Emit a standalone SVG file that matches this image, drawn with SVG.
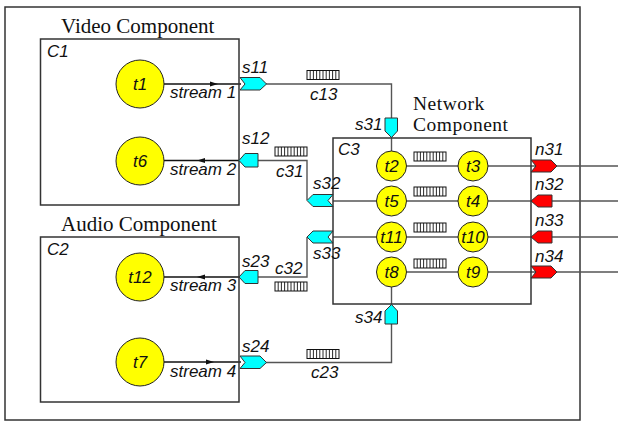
<svg xmlns="http://www.w3.org/2000/svg" xmlns:xlink="http://www.w3.org/1999/xlink" width="618" height="425" viewBox="0 0 618 425">
<style>
.box{fill:none;stroke:#333;stroke-width:1.5}
.ln{fill:none;stroke:#555;stroke-width:1.4}
.st{fill:none;stroke:#111;stroke-width:1.5}
.big{fill:#ff0;stroke:#222;stroke-width:1}
.sm{fill:#ff0;stroke:#222;stroke-width:1}
.cy{fill:#0ff;stroke:#333;stroke-width:1}
.rd{fill:#f00;stroke:#333;stroke-width:1}
.ser{font-family:"Liberation Serif","Times New Roman",serif;font-size:21px;fill:#111}
.net{font-size:19.5px;letter-spacing:0.5px}
.lab{font-family:"Liberation Sans",Arial,sans-serif;font-style:italic;font-size:17px;fill:#111}
.ctr{text-anchor:middle}
.ah{fill:#111}
</style>
<defs>
<g id="chan">
<rect x="0" y="0" width="32" height="9" fill="#fff" stroke="#111" stroke-width="1"/>
<path d="M3.2 0V9M6.4 0V9M9.6 0V9M12.8 0V9M16 0V9M19.2 0V9M22.4 0V9M25.6 0V9M28.8 0V9" stroke="#111" stroke-width="0.9"/>
</g>
</defs>

<rect id="outer" class="box" x="5" y="7" width="575" height="413"/>

<g id="connectors">
<line class="st" x1="164" y1="84" x2="241" y2="84"/>
<polygon class="ah" points="218,84 210,81.5 210,86.5"/>
<line class="st" x1="164" y1="160.5" x2="240" y2="160.5"/>
<polygon class="ah" points="197,160.5 205,158 205,163"/>
<line class="st" x1="164" y1="277" x2="240" y2="277"/>
<polygon class="ah" points="197,277 205,274.5 205,279.5"/>
<line class="st" x1="164" y1="362" x2="241" y2="362"/>
<polygon class="ah" points="214,362 206,359.5 206,364.5"/>
<polyline class="ln" points="266,84 391.5,84 391.5,118"/>
<polyline class="ln" points="258,160.5 307,160.5 307,200"/>
<polyline class="ln" points="258,277 307,277 307,237"/>
<polyline class="ln" points="266,362.5 391.5,362.5 391.5,324"/>
<line class="ln" x1="391.5" y1="137" x2="391.5" y2="151"/>
<line class="ln" x1="391.5" y1="287" x2="391.5" y2="305"/>
<line class="ln" x1="406.5" y1="166" x2="458" y2="166"/>
<line class="ln" x1="488" y1="166" x2="618" y2="166"/>
<line class="ln" x1="333" y1="201" x2="376.5" y2="201"/>
<line class="ln" x1="406.5" y1="201" x2="458" y2="201"/>
<line class="ln" x1="488" y1="201" x2="618" y2="201"/>
<line class="ln" x1="333" y1="237" x2="376.5" y2="237"/>
<line class="ln" x1="406.5" y1="237" x2="458" y2="237"/>
<line class="ln" x1="488" y1="237" x2="618" y2="237"/>
<line class="ln" x1="406.5" y1="272" x2="458" y2="272"/>
<line class="ln" x1="488" y1="272" x2="618" y2="272"/>
<use xlink:href="#chan" x="307" y="70.5"/>
<use xlink:href="#chan" x="275" y="147"/>
<use xlink:href="#chan" x="275" y="282"/>
<use xlink:href="#chan" x="307" y="349.5"/>
<use xlink:href="#chan" x="414" y="152"/>
<use xlink:href="#chan" x="414" y="187"/>
<use xlink:href="#chan" x="414" y="223"/>
<use xlink:href="#chan" x="414" y="259"/>
<text class="lab" x="310" y="100">c13</text>
<text class="lab" x="276" y="177">c31</text>
<text class="lab" x="275" y="274">c32</text>
<text class="lab" x="311" y="378">c23</text>
</g>

<g id="video">
<text class="ser" x="61" y="33">Video Component</text>
<rect class="box" x="40.5" y="39" width="198.5" height="166"/>
<text class="lab" x="47" y="57">C1</text>
</g>
<g id="t1"><circle class="big" cx="140" cy="84" r="24"/><text class="lab ctr" x="140" y="90">t1</text></g>
<g id="t6"><circle class="big" cx="140" cy="161" r="24"/><text class="lab ctr" x="140" y="167">t6</text></g>
<text class="lab" x="170" y="98">stream 1</text>
<text class="lab" x="170" y="175">stream 2</text>
<g id="s11"><polygon class="cy" points="240,77.5 260,77.5 266.5,84 260,90 240,90 245,84"/><text class="lab" x="242" y="73">s11</text></g>
<g id="s12"><polygon class="cy" points="239,160.5 245,153.5 258,153.5 258,167 245,167"/><text class="lab" x="242" y="144">s12</text></g>

<g id="audio">
<text class="ser" x="61" y="231">Audio Component</text>
<rect class="box" x="40.5" y="237" width="198.5" height="165"/>
<text class="lab" x="47" y="255">C2</text>
</g>
<g id="t12"><circle class="big" cx="140" cy="277" r="24"/><text class="lab ctr" x="140" y="283">t12</text></g>
<g id="t7"><circle class="big" cx="140" cy="362" r="24"/><text class="lab ctr" x="140" y="368">t7</text></g>
<text class="lab" x="170" y="291">stream 3</text>
<text class="lab" x="170" y="377">stream 4</text>
<g id="s23"><polygon class="cy" points="239,277 245,270.5 258,270.5 258,283.5 245,283.5"/><text class="lab" x="242" y="267">s23</text></g>
<g id="s24"><polygon class="cy" points="240,356 260,356 266.5,362.5 260,368.5 240,368.5 245,362.5"/><text class="lab" x="242" y="352">s24</text></g>

<g id="network">
<text class="ser net" x="413" y="109.5">Network</text>
<text class="ser net" x="413" y="131.3">Component</text>
<rect class="box" x="333" y="138" width="198" height="166"/>
<text class="lab" x="338" y="155">C3</text>
</g>
<g id="s31"><polygon class="cy" points="385,118 397.5,118 397.5,131 391.5,137.5 385,131"/><text class="lab" x="355" y="130">s31</text></g>
<g id="s32"><polygon class="cy" points="333,194.5 313,194.5 307,200.5 313,206.5 333,206.5 328,200.5"/><text class="lab" x="313" y="189">s32</text></g>
<g id="s33"><polygon class="cy" points="333,231 313,231 307,237 313,243 333,243 328,237"/><text class="lab" x="313" y="259">s33</text></g>
<g id="s34"><polygon class="cy" points="391.5,304.5 397.5,311 397.5,324 385,324 385,311"/><text class="lab" x="355" y="323">s34</text></g>

<g id="t2"><circle class="sm" cx="391.5" cy="166" r="15"/><text class="lab ctr" x="391.5" y="172">t2</text></g>
<g id="t3"><circle class="sm" cx="473" cy="166" r="15"/><text class="lab ctr" x="473" y="172">t3</text></g>
<g id="t5"><circle class="sm" cx="391.5" cy="201" r="15"/><text class="lab ctr" x="391.5" y="207">t5</text></g>
<g id="t4"><circle class="sm" cx="473" cy="201" r="15"/><text class="lab ctr" x="473" y="207">t4</text></g>
<g id="t11"><circle class="sm" cx="391.5" cy="237" r="15"/><text class="lab ctr" x="391.5" y="243">t11</text></g>
<g id="t10"><circle class="sm" cx="473" cy="237" r="15"/><text class="lab ctr" x="473" y="243">t10</text></g>
<g id="t8"><circle class="sm" cx="391.5" cy="272" r="15"/><text class="lab ctr" x="391.5" y="278">t8</text></g>
<g id="t9"><circle class="sm" cx="473" cy="272" r="15"/><text class="lab ctr" x="473" y="278">t9</text></g>

<g id="n31"><polygon class="rd" points="531,160 551,160 557,166 551,172 531,172 536,166"/><text class="lab" x="535" y="155">n31</text></g>
<g id="n32"><polygon class="rd" points="531,201 538,195 552,195 552,207 538,207"/><text class="lab" x="535" y="190">n32</text></g>
<g id="n33"><polygon class="rd" points="531,237 538,231 552,231 552,243 538,243"/><text class="lab" x="535" y="226">n33</text></g>
<g id="n34"><polygon class="rd" points="531,266 551,266 557,272 551,278 531,278 536,272"/><text class="lab" x="535" y="262">n34</text></g>
</svg>
